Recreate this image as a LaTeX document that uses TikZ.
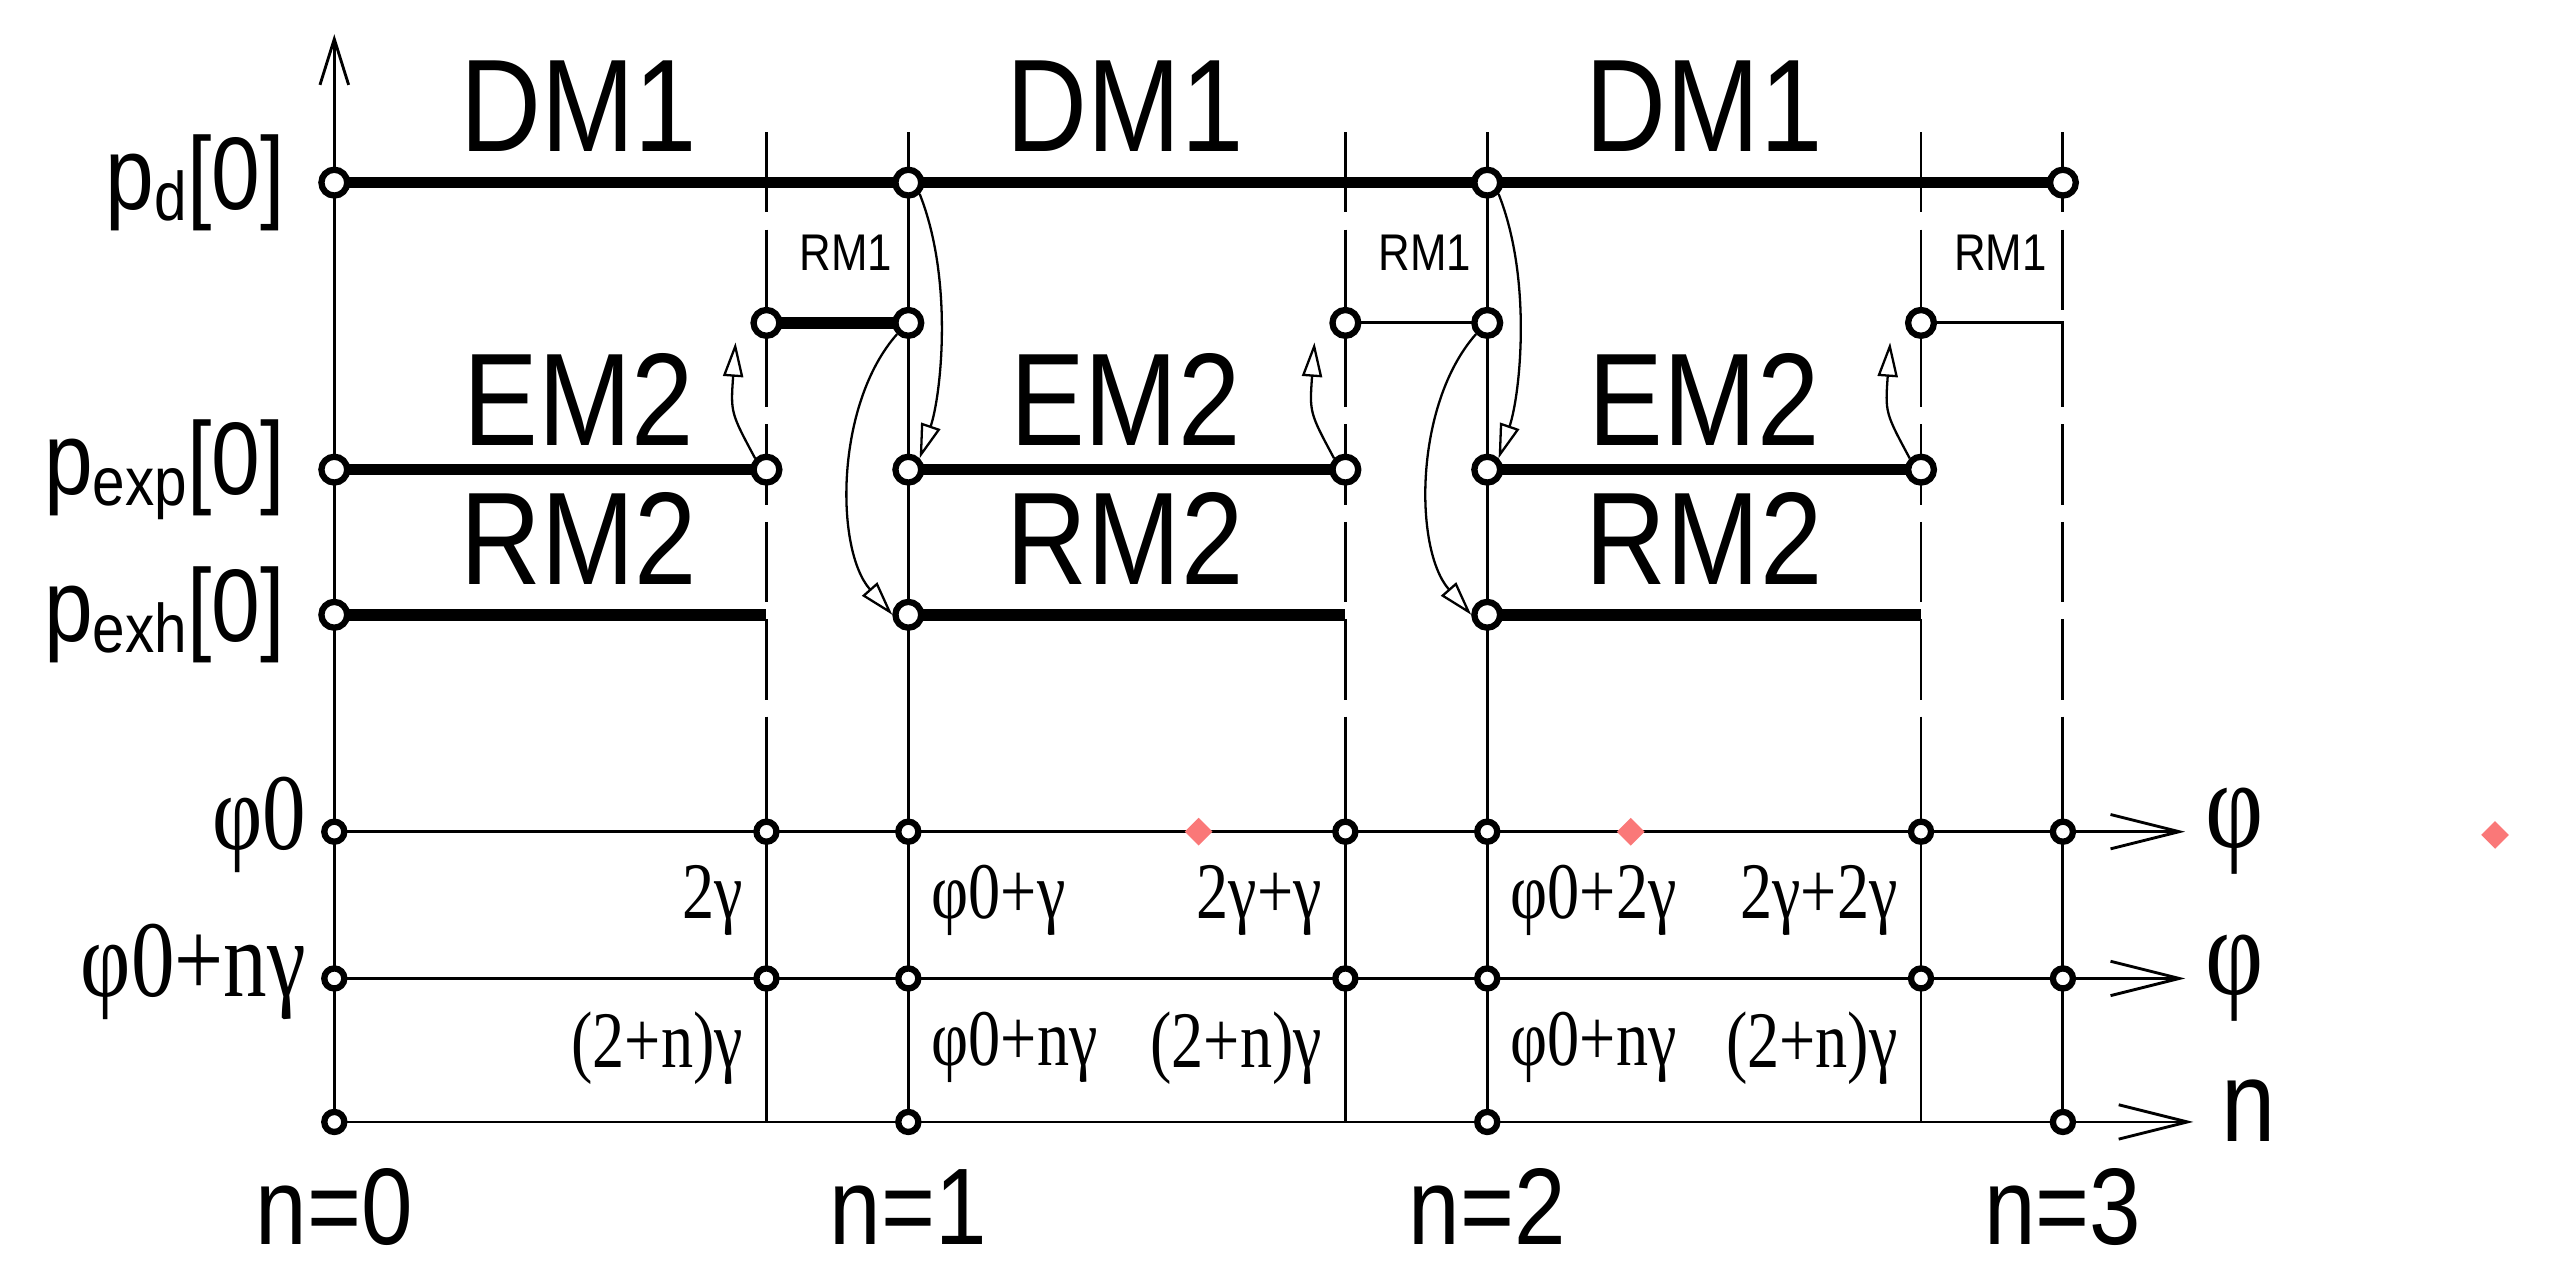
\documentclass[tikz,border=0pt]{standalone}
\usepackage{fontspec}
\setmainfont{Liberation Sans}[FakeStretch=0.85]
\newfontfamily\tms{Liberation Serif}[FakeStretch=0.8]
\usetikzlibrary{arrows.meta,shapes.geometric}
\definecolor{mark}{RGB}{250,120,120}
\begin{document}
\begin{tikzpicture}[
  dot/.style={circle,draw,line width=1.1pt,inner sep=0pt,minimum size=4.5pt,fill=white},
  sdot/.style={circle,draw,line width=1.1pt,inner sep=0pt,minimum size=3.5pt,fill=white},
  thickline/.style={line width=2pt},
  grid/.style={line width=0.5pt},
  cut/.style={line width=0.5pt,dash pattern=on 14pt off 3pt},
  jump/.style={line width=0.4pt,-{Triangle[open,length=6pt,width=3.5pt]}},
  big/.style={font=\fontsize{23}{23}\selectfont},
  lab/.style={font=\fontsize{18}{18}\selectfont,anchor=east},
  sml/.style={font=\fontsize{9}{9}\selectfont},
  ang/.style={font=\tms\fontsize{14}{14}\selectfont},
  pink/.style={diamond,fill=mark,inner sep=0pt,minimum size=5pt}]
\useasboundingbox (0,0) rectangle (15.68,7.76);

% grid
\coordinate (top) at (2.05,7.55);
\coordinate (o) at (2.05,0.88);
\draw[grid,-{Straight Barb[length=8pt,width=5pt]}] (o) -- (top);
\foreach \x in {4.70,8.25,11.78} {
  \draw[cut] (\x,6.95) -- (\x,2.95);
  \draw[grid] (\x,2.95) -- (\x,0.88);
}
\foreach \x in {5.57,9.12} \draw[grid] (\x,6.95) -- (\x,0.88);
\draw[cut] (12.65,6.95) -- (12.65,2.95);
\draw[grid] (12.65,2.95) -- (12.65,0.88);

% axes
\coordinate (phiend) at (13.40,2.66);
\coordinate (phinend) at (13.40,1.76);
\coordinate (nend) at (13.45,0.88);
\draw[grid,-{Straight Barb[length=12pt,width=6pt]}] (2.05,2.66) -- (phiend);
\draw[grid,-{Straight Barb[length=12pt,width=6pt]}] (2.05,1.76) -- (phinend);
\draw[grid,-{Straight Barb[length=12pt,width=6pt]}] (o) -- (nend);
\node[ang,font=\tms\fontsize{22}{22}\selectfont,anchor=west] at (phiend) {φ};
\node[ang,font=\tms\fontsize{22}{22}\selectfont,anchor=west] at (phinend) {φ};
\node[font=\fontsize{20}{20}\selectfont,anchor=west] at (13.50,0.95) {n};

% thick lines
\draw[thickline] (2.05,6.64) -- (12.65,6.64);
\draw[thickline] (4.70,5.78) -- (5.57,5.78);
\draw[grid] (8.25,5.78) -- (9.12,5.78);
\draw[grid] (11.78,5.78) -- (12.65,5.78) -- (12.65,5.45);
\foreach \a/\b in {2.05/4.70,5.57/8.25,9.12/11.78} {
  \draw[thickline] (\a,4.88) -- (\b,4.88);
  \draw[thickline] (\a,3.99) -- (\b,3.99);
}

% dots
\foreach \i/\x in {0/2.05,1/5.57,2/9.12,3/12.65} \node[dot] (pd\i) at (\x,6.64) {};
\foreach \i/\x in {1/4.70,2/8.25,3/11.78} {
  \node[dot] (rl\i) at (\x,5.78) {};
  \node[dot] (ex\i) at (\x,4.88) {};
}
\foreach \i/\x in {1/5.57,2/9.12} \node[dot] (rr\i) at (\x,5.78) {};
\foreach \i/\x in {0/2.05,1/5.57,2/9.12} {
  \node[dot] (es\i) at (\x,4.88) {};
  \node[dot] (eh\i) at (\x,3.99) {};
}
\foreach \x in {2.05,4.70,5.57,8.25,9.12,11.78,12.65} {
  \node[sdot] at (\x,2.66) {};
  \node[sdot] at (\x,1.76) {};
}
\foreach \x in {2.05,5.57,9.12,12.65} \node[sdot] at (\x,0.88) {};

% transfers
\foreach \i in {1,2,3} \draw[jump] (ex\i.north west) .. controls ([xshift=-0.22cm,yshift=0.35cm]ex\i.center) .. ([xshift=-0.12cm,yshift=-0.05cm]rl\i.south west);
\foreach \j in {1,2} {
  \draw[jump] (pd\j.south east) .. controls ([xshift=0.28cm,yshift=-0.6cm]pd\j.center) and ([xshift=0.2cm,yshift=0.45cm]es\j.center) .. (es\j.north east);
  \draw[jump] (rr\j.south west) .. controls ([xshift=-0.45cm,yshift=-0.5cm]rr\j.center) and ([xshift=-0.45cm,yshift=0.4cm]eh\j.center) .. (eh\j.west);
}

% labels
\foreach \x in {3.55,6.90,10.45} {
  \node[big] at (\x,7.11) {DM1};
  \node[big] at (\x,5.31) {EM2};
  \node[big] at (\x,4.46) {RM2};
}
\foreach \x in {4.78,8.33,11.86} \node[sml,anchor=south west] at (\x,5.98) {RM1};
\node[lab] at (1.87,6.64) {p\raisebox{-2pt}{\fontsize{12}{12}\selectfont d}[0]};
\node[lab] at (1.87,4.88) {p\raisebox{-2pt}{\fontsize{12}{12}\selectfont exp}[0]};
\node[lab] at (1.87,3.99) {p\raisebox{-2pt}{\fontsize{12}{12}\selectfont exh}[0]};
\node[ang,font=\tms\fontsize{19}{19}\selectfont,anchor=east] at (2.00,2.70) {φ0};
\node[ang,font=\tms\fontsize{19}{19}\selectfont,anchor=east] at (2.00,1.80) {φ0+nγ};
\foreach \i/\x in {0/2.05,1/5.57,2/9.12,3/12.65}
  \node[font=\fontsize{19}{19}\selectfont] at (\x,0.36) {n=\i};

\node[ang,anchor=north east] at (4.68,2.58) {2γ};
\node[ang,anchor=north west] at (5.59,2.58) {φ0+γ};
\node[ang,anchor=north east] at (8.23,2.58) {2γ+γ};
\node[ang,anchor=north west] at (9.14,2.58) {φ0+2γ};
\node[ang,anchor=north east] at (11.76,2.58) {2γ+2γ};
\foreach \b/\s in {4.70/5.57,8.25/9.12} {
  \node[ang,anchor=north east] at (\b-0.02,1.68) {(2+n)γ};
  \node[ang,anchor=north west] at (\s+0.02,1.68) {φ0+nγ};
}
\node[ang,anchor=north east] at (11.76,1.68) {(2+n)γ};

\node[pink] at (7.35,2.66) {};
\node[pink] at (10.00,2.66) {};
\node[pink] at (15.30,2.64) {};
\end{tikzpicture}
\end{document}
